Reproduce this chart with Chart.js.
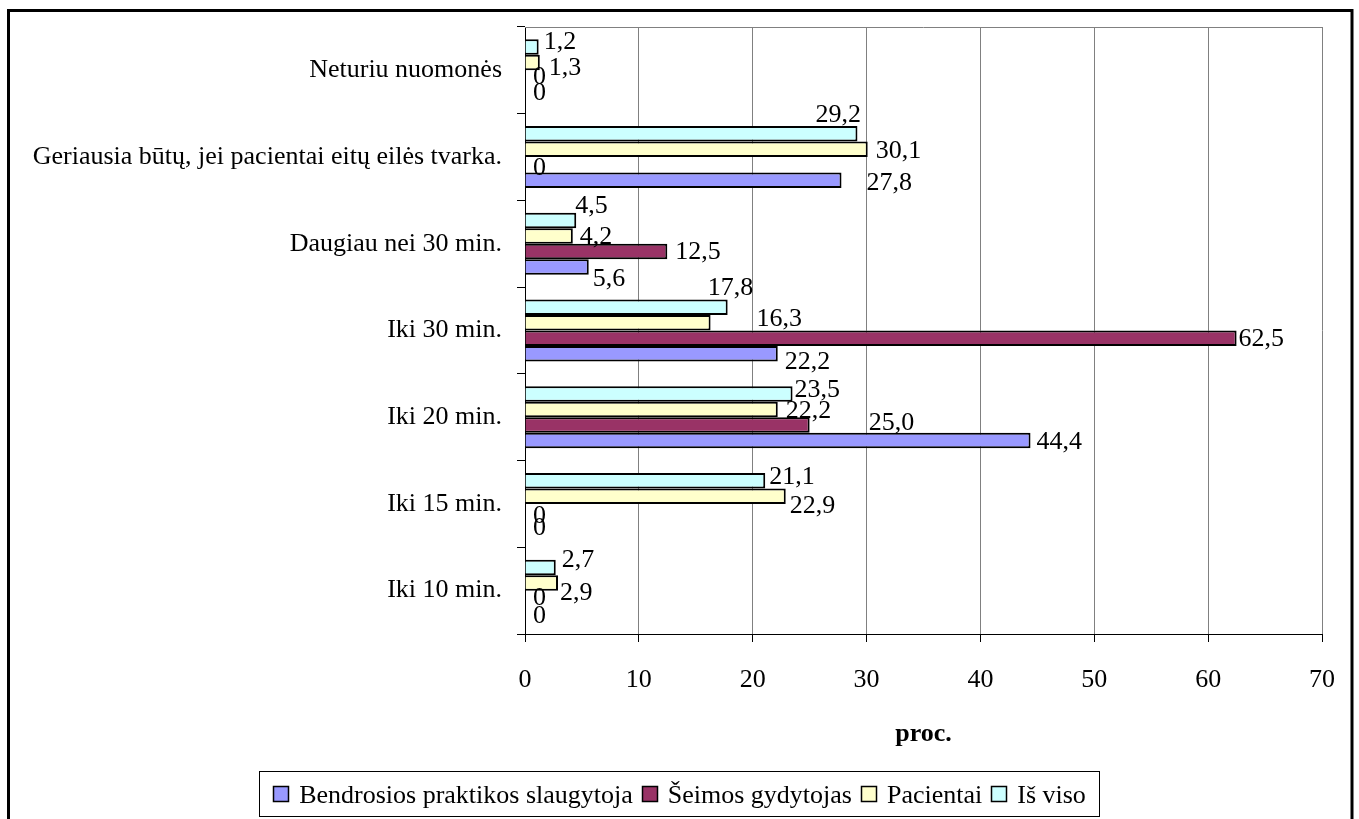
<!DOCTYPE html>
<html>
<head>
<meta charset="utf-8">
<script src="https://cdn.jsdelivr.net/npm/chart.js@4.4.0/dist/chart.umd.min.js"></script>
<style>
  html, body { margin: 0; padding: 0; background: #fff; }
  #wrap { position: relative; width: 1359px; height: 819px; }
  canvas { display: block; }
</style>
</head>
<body>
<div id="wrap"><canvas id="c" width="1359" height="819"></canvas></div>
<script>
// Categories listed from the bottom of the chart to the top
const categories = [
  'Iki 10 min.',
  'Iki 15 min.',
  'Iki 20 min.',
  'Iki 30 min.',
  'Daugiau nei 30 min.',
  'Geriausia būtų, jei pacientai eitų eilės tvarka.',
  'Neturiu nuomonės'
];
const seriesNames = ['Bendrosios praktikos slaugytoja', 'Šeimos gydytojas', 'Pacientai', 'Iš viso'];
const slaugytoja = [0, 0, 44.4, 22.2, 5.6, 27.8, 0];
const gydytojas  = [0, 0, 25.0, 62.5, 12.5, 0, 0];
const pacientai  = [2.9, 22.9, 22.2, 16.3, 4.2, 30.1, 1.3];
const isViso     = [2.7, 21.1, 23.5, 17.8, 4.5, 29.2, 1.2];
const xTicks = [0, 10, 20, 30, 40, 50, 60, 70];
const axisTitle = 'proc.';

const FONT = '"Liberation Serif", "Times New Roman", serif';
const FS = 26;
const colors = {
  'Bendrosios praktikos slaugytoja': '#9999FF',
  'Šeimos gydytojas': '#993366',
  'Pacientai': '#FFFFCC',
  'Iš viso': '#CCFFFF'
};
const valuesBySeries = {
  'Bendrosios praktikos slaugytoja': slaugytoja,
  'Šeimos gydytojas': gydytojas,
  'Pacientai': pacientai,
  'Iš viso': isViso
};

// Small hand placement tweaks for the value labels (dx, dy from the bar end)
const labelNudge = {
  'Iš viso|Neturiu nuomonės': [-1, -5],
  'Pacientai|Neturiu nuomonės': [3, 6],
  'Šeimos gydytojas|Neturiu nuomonės': [2, -1],
  'Bendrosios praktikos slaugytoja|Neturiu nuomonės': [2, 0],
  'Iš viso|Geriausia būtų, jei pacientai eitų eilės tvarka.': [-48, -19],
  'Pacientai|Geriausia būtų, jei pacientai eitų eilės tvarka.': [2, 2],
  'Šeimos gydytojas|Geriausia būtų, jei pacientai eitų eilės tvarka.': [2, 3],
  'Bendrosios praktikos slaugytoja|Geriausia būtų, jei pacientai eitų eilės tvarka.': [19, 3],
  'Iš viso|Daugiau nei 30 min.': [-7, -14],
  'Pacientai|Daugiau nei 30 min.': [1, 1],
  'Šeimos gydytojas|Daugiau nei 30 min.': [2, 1],
  'Bendrosios praktikos slaugytoja|Daugiau nei 30 min.': [-2, 12],
  'Iš viso|Iki 30 min.': [-26, -19],
  'Pacientai|Iki 30 min.': [40, -4],
  'Šeimos gydytojas|Iki 30 min.': [-4, 1],
  'Bendrosios praktikos slaugytoja|Iki 30 min.': [1, 8],
  'Iš viso|Iki 20 min.': [-4, -4],
  'Pacientai|Iki 20 min.': [2, 2],
  'Šeimos gydytojas|Iki 20 min.': [53, -2],
  'Bendrosios praktikos slaugytoja|Iki 20 min.': [0, 2],
  'Iš viso|Iki 15 min.': [-2, -4],
  'Pacientai|Iki 15 min.': [-2, 10],
  'Šeimos gydytojas|Iki 15 min.': [2, 4],
  'Bendrosios praktikos slaugytoja|Iki 15 min.': [2, 1],
  'Iš viso|Iki 10 min.': [0, -7],
  'Pacientai|Iki 10 min.': [-4, 10],
  'Šeimos gydytojas|Iki 10 min.': [2, 0],
  'Bendrosios praktikos slaugytoja|Iki 10 min.': [2, 2]
};

function fmt(v) {
  return v === 0 ? '0' : v.toFixed(1).replace('.', ',');
}

// Within each group the first dataset sits on top, so stack them top-down
const drawOrder = ['Iš viso', 'Pacientai', 'Šeimos gydytojas', 'Bendrosios praktikos slaugytoja'];
const datasets = drawOrder.map(name => ({
  label: name,
  data: valuesBySeries[name],
  backgroundColor: colors[name],
  borderColor: '#000',
  borderWidth: 2,
  categoryPercentage: 0.715,
  barPercentage: 1.0
}));

const decorPlugin = {
  id: 'decor',
  beforeDatasetsDraw(chart) {
    const { ctx, chartArea: a } = chart;
    ctx.save();
    ctx.strokeStyle = '#808080';
    ctx.lineWidth = 1;
    ctx.beginPath();
    ctx.moveTo(a.left, a.top + 0.5);
    ctx.lineTo(a.right, a.top + 0.5);
    ctx.stroke();
    ctx.restore();
  },
  afterDatasetsDraw(chart) {
    const { ctx } = chart;
    ctx.save();
    ctx.font = FS + 'px ' + FONT;
    ctx.fillStyle = '#000';
    ctx.textAlign = 'left';
    ctx.textBaseline = 'middle';
    chart.data.datasets.forEach((ds, i) => {
      const meta = chart.getDatasetMeta(i);
      meta.data.forEach((el, j) => {
        const v = ds.data[j];
        const n = labelNudge[ds.label + '|' + categories[j]] || [0, 0];
        ctx.fillText(fmt(v), el.x + 6 + n[0], el.y + n[1]);
      });
    });
    ctx.restore();
  },
  afterDraw(chart) {
    const { ctx, chartArea: a } = chart;
    ctx.save();
    // axis title
    ctx.font = 'bold ' + FS + 'px ' + FONT;
    ctx.fillStyle = '#000';
    ctx.textAlign = 'center';
    ctx.textBaseline = 'alphabetic';
    ctx.fillText(axisTitle, (a.left + a.right) / 2, 741);

    // legend box
    ctx.font = FS + 'px ' + FONT;
    const box = { x: 259.5, y: 771.5, w: 840, h: 45 };
    ctx.fillStyle = '#fff';
    ctx.fillRect(box.x, box.y, box.w, box.h);
    ctx.strokeStyle = '#000';
    ctx.lineWidth = 1;
    ctx.strokeRect(box.x, box.y, box.w, box.h);
    const mark = 16, gapIn = 10, gapOut = 9;
    let total = 0;
    seriesNames.forEach((nm, k) => {
      total += mark + gapIn + ctx.measureText(nm).width + (k < seriesNames.length - 1 ? gapOut : 0);
    });
    let x = box.x + (box.w - total) / 2;
    const cy = 794;
    ctx.textAlign = 'left';
    ctx.textBaseline = 'alphabetic';
    seriesNames.forEach(nm => {
      ctx.fillStyle = colors[nm];
      ctx.fillRect(Math.round(x) + 0.5, cy - 7.5, mark - 1, mark - 1);
      ctx.strokeStyle = '#000';
      ctx.lineWidth = 1.5;
      ctx.strokeRect(Math.round(x) + 0.5, cy - 7.5, mark - 1, mark - 1);
      x += mark + gapIn;
      ctx.fillStyle = '#000';
      ctx.fillText(nm, x, 803);
      x += ctx.measureText(nm).width + gapOut;
    });

    // outer frame
    ctx.strokeStyle = '#000';
    ctx.lineWidth = 3;
    ctx.strokeRect(8.5, 10.5, 1343.5, 830);
    ctx.restore();
  }
};

new Chart(document.getElementById('c'), {
  type: 'bar',
  data: { labels: categories, datasets },
  plugins: [decorPlugin],
  options: {
    indexAxis: 'y',
    responsive: false,
    animation: false,
    devicePixelRatio: 1,
    layout: { padding: { top: 27, right: 37, left: 0, bottom: 0 } },
    plugins: { legend: { display: false }, tooltip: { enabled: false } },
    scales: {
      x: {
        min: xTicks[0],
        max: xTicks[xTicks.length - 1],
        afterBuildTicks(scale) { scale.ticks = xTicks.map(v => ({ value: v })); },
        afterFit(scale) {
          scale.height = 819 - 634;
          scale.paddingLeft = 0;
          scale.paddingRight = 0;
        },
        grid: { color: '#808080', tickColor: '#000', tickLength: 8, lineWidth: 1 },
        border: { display: true, color: '#000', width: 1 },
        ticks: { color: '#000', font: { family: FONT, size: FS }, padding: 23, maxRotation: 0 }
      },
      y: {
        reverse: true,
        afterFit(scale) {
          scale.width = 525;
          scale.paddingTop = 0;
          scale.paddingBottom = 0;
        },
        grid: { drawOnChartArea: false, drawTicks: true, tickLength: 8, tickColor: '#000', offset: true },
        border: { display: true, color: '#000', width: 1 },
        ticks: { color: '#000', font: { family: FONT, size: FS }, padding: 15, autoSkip: false }
      }
    }
  }
});
</script>
</body>
</html>
